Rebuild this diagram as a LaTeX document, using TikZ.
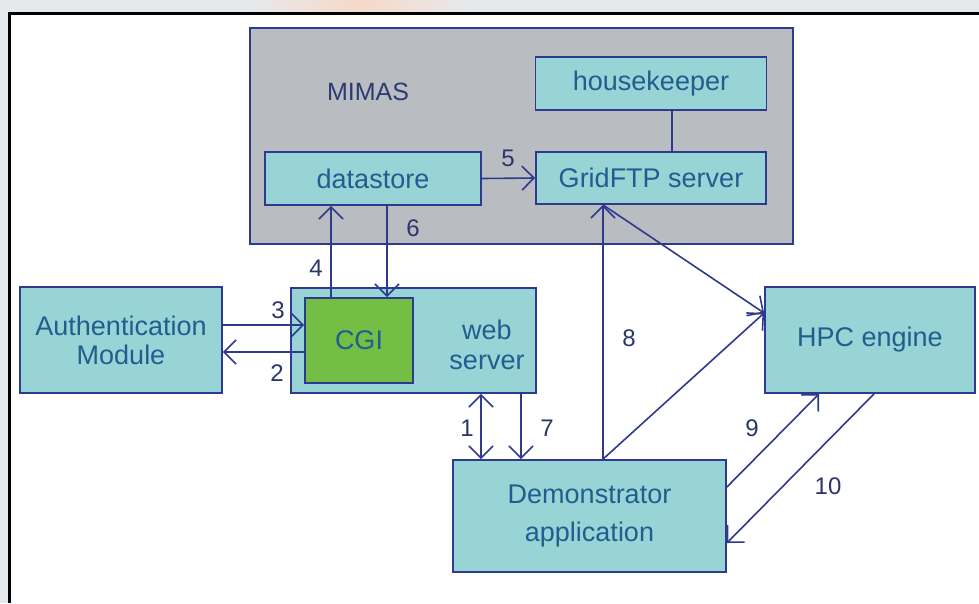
\documentclass[tikz,border=0pt]{standalone}
\usepackage{fontspec}
\setmainfont{Liberation Sans}
\usetikzlibrary{arrows.meta}
\definecolor{boxfill}{HTML}{98D4D6}
\definecolor{navy}{HTML}{2E3A8E}
\definecolor{grayfill}{HTML}{B9BCC1}
\definecolor{cgigreen}{HTML}{74BE46}
\definecolor{txt}{HTML}{1F5E8E}
\definecolor{numtxt}{HTML}{2D3469}
\definecolor{outer}{HTML}{E6E9EC}
\definecolor{glow}{HTML}{F6D9C8}
\tikzset{
  box/.style={draw=navy, line width=1.8pt, fill=boxfill, inner sep=0pt, text=txt,
    font=\fontsize{27}{29}\selectfont, align=center},
  lbl/.style={text=txt, font=\fontsize{27}{30}\selectfont, align=center, inner sep=0pt},
  num/.style={text=numtxt, font=\fontsize{24}{28}\selectfont, inner sep=0pt},
  conn/.style={draw=navy, line width=1.6pt},
  arr/.style={conn, -{Straight Barb[length=12pt,width=24pt,line width=1.6pt]}},
  darr/.style={conn, {Straight Barb[length=12pt,width=24pt,line width=1.6pt]}-{Straight Barb[length=12pt,width=24pt,line width=1.6pt]}},
}
\begin{document}
\begin{tikzpicture}[x=1pt,y=-1pt]
\useasboundingbox (0,0) rectangle (979,603);
% page background and frame
\fill[outer] (0,0) rectangle (979,603);
\shade[left color=outer, right color=outer, middle color=glow] (250,0) rectangle (470,12);
\fill[white] (9,13) rectangle (979,603);
\draw[black, line width=3pt] (9,603) -- (9,13) -- (979,13);

% MIMAS group
\node[draw=navy, line width=1.8pt, fill=grayfill, minimum width=543pt, minimum height=216pt, inner sep=0pt] (mimas) at (521.5,136) {};
\node[text=numtxt!80!txt, font=\fontsize{25}{30}\selectfont, inner sep=0pt] (mimaslbl) at (368,92) {MIMAS};
\node[box, minimum width=231pt, minimum height=53pt] (hk) at (651,83.5) {housekeeper};
\node[box, minimum width=230pt, minimum height=52pt] (grid) at (651,178) {GridFTP server};
\node[box, minimum width=216pt, minimum height=53pt] (ds) at (373,178.5) {datastore};

% web server and CGI
\node[box, minimum width=245pt, minimum height=105pt] (web) at (413.5,340.5) {};
\node[lbl] (weblbl) at (487,345) {web\\server};
\node[box, fill=cgigreen, minimum width=108pt, minimum height=85pt] (cgi) at (359,340.5) {CGI};

% other boxes
\node[box, minimum width=202pt, minimum height=106pt] (auth) at (121,340) {Authentication\\Module};
\node[box, minimum width=210pt, minimum height=106pt] (hpc) at (870,340) {HPC engine};
\node[box, minimum width=273pt, minimum height=112pt] (demo) at (589.5,516) {Demonstrator\\[9pt]application};

% helper coordinates
\coordinate (x1) at (481,0);
\coordinate (x4) at (331,0);
\coordinate (x6) at (387,0);
\coordinate (x7) at (521,0);
\coordinate (x8) at (603,0);
\coordinate (xh) at (672,0);
\coordinate (x9) at (819,0);
\coordinate (x10) at (874,0);
\coordinate (y3) at (0,325);
\coordinate (y2) at (0,352);
\coordinate (yh) at (0,313);
\coordinate (y9) at (0,487);
\coordinate (y10) at (0,543);

% connectors
\draw[conn] (xh |- hk.south) -- (xh |- grid.north);
\draw[arr] (ds.east) -- (grid.west);
\draw[arr] (x4 |- cgi.north) -- (x4 |- ds.south);
\draw[arr] (x6 |- ds.south) -- (x6 |- cgi.north);
\draw[arr] (auth.east |- y3) -- (cgi.west |- y3);
\draw[arr] (cgi.west |- y2) -- (auth.east |- y2);
\draw[darr] (x1 |- web.south) -- (x1 |- demo.north);
\draw[arr] (x7 |- web.south) -- (x7 |- demo.north);
\draw[arr] (x8 |- demo.north) -- (x8 |- grid.south);
\draw[arr] (x8 |- grid.south) -- (hpc.west |- yh);
\draw[arr] (x8 |- demo.north) -- (hpc.west |- yh);
\draw[arr] (demo.east |- y9) -- (x9 |- hpc.south);
\draw[arr] (x10 |- hpc.south) -- (demo.east |- y10);

% number labels
\node[num] (n5) at (508,158) {5};
\node[num] (n6) at (413,228) {6};
\node[num] (n4) at (316,268) {4};
\node[num] (n3) at (278,310) {3};
\node[num] (n2) at (277,373) {2};
\node[num] (n1) at (467,428) {1};
\node[num] (n7) at (547,428) {7};
\node[num] (n8) at (629,338) {8};
\node[num] (n9) at (752,428) {9};
\node[num] (n10) at (828,486) {10};
\end{tikzpicture}
\end{document}
